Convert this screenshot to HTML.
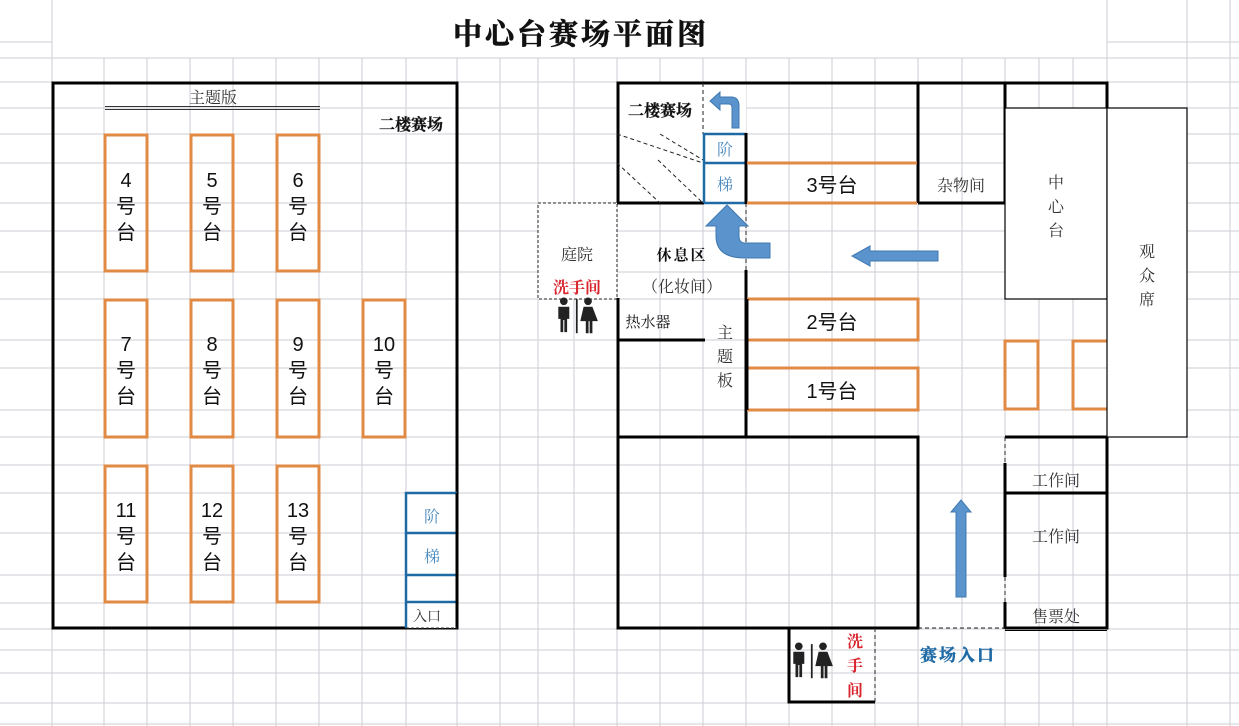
<!DOCTYPE html>
<html><head><meta charset="utf-8"><style>
html,body{margin:0;padding:0;background:#fff;}
svg{display:block;}
text{font-family:"Liberation Serif","Noto Serif CJK SC",serif;}
.s{font-family:"Liberation Sans","Noto Sans CJK SC",sans-serif;}
</style></head><body>
<svg width="1239" height="726" viewBox="0 0 1239 726" xmlns="http://www.w3.org/2000/svg">
<defs>
<g id="wc">
 <circle cx="-12" cy="-17" r="3.5" fill="#222"/>
 <path d="M-17,-12 h10 v11 h-2 v12 h-2.5 v-11 h-1 v11 h-2.5 v-12 h-2 z" fill="#222"/>
 <rect x="-1" y="-19" width="1.6" height="31" fill="#222"/>
 <circle cx="10" cy="-17" r="3.5" fill="#222"/>
 <path d="M6,-12 h8 l5,13 h-5 v11 h-2.5 v-11 h-1 v11 h-2.5 v-11 h-5 z" fill="#222"/>
</g>
</defs>
<g stroke="#cdcdd6" stroke-width="1">
 <line x1="0" y1="42" x2="52" y2="42"/><line x1="1107" y1="42" x2="1239" y2="42"/>
 <line x1="52" y1="0" x2="52" y2="726"/><line x1="1107" y1="0" x2="1107" y2="726"/>
 <line x1="1187" y1="0" x2="1187" y2="726"/><line x1="1230" y1="0" x2="1230" y2="726"/>
 <line x1="0" y1="58" x2="1239" y2="58"/>
 <g>
  <line x1="0" y1="82" x2="1239" y2="82"/><line x1="0" y1="108" x2="1239" y2="108"/>
  <line x1="0" y1="134" x2="1239" y2="134"/><line x1="0" y1="163" x2="1239" y2="163"/>
  <line x1="0" y1="203" x2="1239" y2="203"/><line x1="0" y1="231" x2="1239" y2="231"/>
  <line x1="0" y1="272" x2="1239" y2="272"/><line x1="0" y1="299" x2="1239" y2="299"/>
  <line x1="0" y1="340" x2="1239" y2="340"/><line x1="0" y1="368" x2="1239" y2="368"/>
  <line x1="0" y1="410" x2="1239" y2="410"/><line x1="0" y1="437" x2="1239" y2="437"/>
  <line x1="0" y1="465" x2="1239" y2="465"/><line x1="0" y1="493" x2="1239" y2="493"/>
  <line x1="0" y1="533" x2="1239" y2="533"/><line x1="0" y1="575" x2="1239" y2="575"/>
  <line x1="0" y1="603" x2="1239" y2="603"/><line x1="0" y1="629" x2="1239" y2="629"/>
  <line x1="0" y1="650" x2="1239" y2="650"/><line x1="0" y1="673" x2="1239" y2="673"/>
  <line x1="0" y1="703" x2="1239" y2="703"/><line x1="0" y1="724" x2="1239" y2="724"/>
 </g>
 <g>
  <line x1="104" y1="58" x2="104" y2="726"/><line x1="147" y1="58" x2="147" y2="726"/>
  <line x1="190" y1="58" x2="190" y2="726"/><line x1="233" y1="58" x2="233" y2="726"/>
  <line x1="276" y1="58" x2="276" y2="726"/><line x1="319" y1="58" x2="319" y2="726"/>
  <line x1="362" y1="58" x2="362" y2="726"/><line x1="406" y1="58" x2="406" y2="726"/>
  <line x1="457" y1="58" x2="457" y2="726"/><line x1="500" y1="58" x2="500" y2="726"/>
  <line x1="538" y1="58" x2="538" y2="726"/><line x1="574" y1="58" x2="574" y2="726"/>
  <line x1="617" y1="58" x2="617" y2="726"/><line x1="660" y1="58" x2="660" y2="726"/>
  <line x1="703" y1="58" x2="703" y2="726"/><line x1="746" y1="58" x2="746" y2="726"/>
  <line x1="789" y1="58" x2="789" y2="726"/><line x1="832" y1="58" x2="832" y2="726"/>
  <line x1="875" y1="58" x2="875" y2="726"/><line x1="918" y1="58" x2="918" y2="726"/>
  <line x1="962" y1="58" x2="962" y2="726"/><line x1="1005" y1="58" x2="1005" y2="726"/>
  <line x1="1039" y1="58" x2="1039" y2="726"/><line x1="1073" y1="58" x2="1073" y2="726"/>
 </g>
</g>
<text x="581" y="44" font-size="29" font-weight="bold" text-anchor="middle" letter-spacing="3" fill="#111" stroke="#111" stroke-width="0.6">中心台赛场平面图</text>

<!-- LEFT BUILDING -->
<rect x="53" y="83" width="404" height="545" fill="none" stroke="#000" stroke-width="3"/>
<text x="213" y="103" font-size="16" text-anchor="middle" fill="#333">主题版</text>
<line x1="105" y1="106.5" x2="320" y2="106.5" stroke="#333" stroke-width="1"/>
<line x1="105" y1="109.5" x2="320" y2="109.5" stroke="#333" stroke-width="1"/>
<text x="411" y="130" font-size="16" font-weight="bold" text-anchor="middle" fill="#111" stroke="#111" stroke-width="0.3">二楼赛场</text>
<g fill="none" stroke="#e08a44" stroke-width="3">
 <rect x="105" y="135" width="42" height="136"/><rect x="191" y="135" width="42" height="136"/><rect x="277" y="135" width="42" height="136"/>
 <rect x="105" y="300" width="42" height="137"/><rect x="191" y="300" width="42" height="137"/><rect x="277" y="300" width="42" height="137"/><rect x="363" y="300" width="42" height="137"/>
 <rect x="105" y="466" width="42" height="136"/><rect x="191" y="466" width="42" height="136"/><rect x="277" y="466" width="42" height="136"/>
</g>
<g class="s" font-size="20" text-anchor="middle" fill="#111">
 <text class="s" x="126" y="187">4</text><text class="s" x="126" y="213">号</text><text class="s" x="126" y="239">台</text>
 <text class="s" x="212" y="187">5</text><text class="s" x="212" y="213">号</text><text class="s" x="212" y="239">台</text>
 <text class="s" x="298" y="187">6</text><text class="s" x="298" y="213">号</text><text class="s" x="298" y="239">台</text>
 <text class="s" x="126" y="351">7</text><text class="s" x="126" y="377">号</text><text class="s" x="126" y="403">台</text>
 <text class="s" x="212" y="351">8</text><text class="s" x="212" y="377">号</text><text class="s" x="212" y="403">台</text>
 <text class="s" x="298" y="351">9</text><text class="s" x="298" y="377">号</text><text class="s" x="298" y="403">台</text>
 <text class="s" x="384" y="351">10</text><text class="s" x="384" y="377">号</text><text class="s" x="384" y="403">台</text>
 <text class="s" x="126" y="517">11</text><text class="s" x="126" y="543">号</text><text class="s" x="126" y="569">台</text>
 <text class="s" x="212" y="517">12</text><text class="s" x="212" y="543">号</text><text class="s" x="212" y="569">台</text>
 <text class="s" x="298" y="517">13</text><text class="s" x="298" y="543">号</text><text class="s" x="298" y="569">台</text>
</g>
<rect x="406" y="493" width="51" height="135" fill="#fff"/>
<g stroke="#1f6aa5" stroke-width="2.5" fill="none">
 <path d="M406,628 V493 H457"/><line x1="406" y1="533" x2="457" y2="533"/><line x1="406" y1="575" x2="457" y2="575"/><line x1="406" y1="602" x2="457" y2="602"/>
</g>
<line x1="457" y1="493" x2="457" y2="628" stroke="#000" stroke-width="3"/>
<line x1="406" y1="628" x2="457" y2="628" stroke="#333" stroke-width="1" stroke-dasharray="3,2"/>
<text x="432" y="522" font-size="16" text-anchor="middle" fill="#4a8ac0">阶</text>
<text x="432" y="562" font-size="16" text-anchor="middle" fill="#4a8ac0">梯</text>
<text x="427" y="621" font-size="14" text-anchor="middle" fill="#333">入口</text>

<!-- RIGHT BUILDING -->
<rect x="538" y="203" width="79" height="96" fill="#fff" stroke="#222" stroke-width="1" stroke-dasharray="3,2"/>
<rect x="617" y="82" width="129" height="121" fill="#fff"/>
<g stroke="#000" stroke-width="3" fill="none">
 <path d="M618,203 V83 H1107 V108"/>
 <line x1="617" y1="203" x2="704" y2="203"/>
 <line x1="918" y1="83" x2="918" y2="203"/>
 <path d="M918,203 H1005 V83"/>
 <line x1="746" y1="270" x2="746" y2="437"/>
 <line x1="618" y1="298" x2="618" y2="629"/>
 <line x1="617" y1="340" x2="705" y2="340"/>
 <rect x="618" y="437" width="300" height="191"/>
 <path d="M789,628 V702 H875"/>
 <path d="M1107,437 V628 H1005"/>
 <line x1="1005" y1="437" x2="1107" y2="437"/>
 <line x1="1005" y1="493" x2="1107" y2="493"/>
 <line x1="1005" y1="463" x2="1005" y2="577"/>
 <line x1="1005" y1="602" x2="1005" y2="629"/>
</g>
<line x1="1005" y1="630.5" x2="1107" y2="630.5" stroke="#000" stroke-width="1"/>
<g stroke="#222" stroke-width="1" stroke-dasharray="4,3" fill="none">
 <line x1="703" y1="83" x2="703" y2="134"/>
 <line x1="746" y1="203" x2="746" y2="270"/>
 <line x1="617" y1="134" x2="703" y2="163"/>
 <line x1="660" y1="134" x2="703" y2="160"/>
 <line x1="617" y1="163" x2="660" y2="203"/>
 <line x1="658" y1="160" x2="703" y2="203"/>
 <line x1="918" y1="628" x2="1005" y2="628"/>
 <line x1="1005" y1="437" x2="1005" y2="463"/>
 <line x1="1005" y1="577" x2="1005" y2="602"/>
 <line x1="875" y1="628" x2="875" y2="702"/>
</g>
<g stroke="#1f6aa5" stroke-width="2.5" fill="none">
 <path d="M704,203 V134 H746 M704,203 H746"/><line x1="704" y1="163" x2="746" y2="163"/>
</g>
<line x1="746" y1="133" x2="746" y2="204" stroke="#000" stroke-width="3"/>
<text x="725" y="155" font-size="16" text-anchor="middle" fill="#4a8ac0">阶</text>
<text x="725" y="190" font-size="16" text-anchor="middle" fill="#4a8ac0">梯</text>
<g stroke="#e08a44" stroke-width="3" fill="none">
 <line x1="747" y1="163" x2="917" y2="163"/><line x1="747" y1="203" x2="917" y2="203"/>
 <path d="M747,299 H918 V340 H747"/>
 <path d="M747,368 H918 V410 H747"/>
 <rect x="1005" y="341" width="33" height="68"/>
 <path d="M1107,341 H1073 V409 H1107"/>
</g>
<line x1="747" y1="299" x2="747" y2="410" stroke="#000" stroke-width="3"/>
<rect x="1005" y="108" width="102" height="191" fill="#fff" stroke="#000" stroke-width="1.2"/>
<rect x="1107" y="108" width="80" height="329" fill="#fff" stroke="#000" stroke-width="1.2"/>
<g class="s" font-size="20" text-anchor="middle" fill="#111">
 <text class="s" x="832" y="192">3号台</text>
 <text class="s" x="832" y="329">2号台</text>
 <text class="s" x="832" y="398">1号台</text>
</g>
<g font-size="16" text-anchor="middle" fill="#333">
 <text x="961" y="191">杂物间</text>
 <text x="1056" y="188">中</text><text x="1056" y="212">心</text><text x="1056" y="236">台</text>
 <text x="1147" y="257">观</text><text x="1147" y="281">众</text><text x="1147" y="305">席</text>
 <text x="577" y="260">庭院</text>
 <text x="682" y="292">（化妆间）</text>
 <text x="725" y="338">主</text><text x="725" y="362">题</text><text x="725" y="386">板</text>
 <text x="1056" y="486">工作间</text>
 <text x="1056" y="542">工作间</text>
 <text x="1056" y="622">售票处</text>
</g>
<text x="648" y="327" font-size="15" text-anchor="middle" fill="#111">热水器</text>
<text x="660" y="116" font-size="16" font-weight="bold" text-anchor="middle" fill="#111" stroke="#111" stroke-width="0.3">二楼赛场</text>
<text x="682" y="260" font-size="15" font-weight="bold" text-anchor="middle" fill="#111" letter-spacing="2">休息区</text>
<text x="577" y="293" font-size="16" font-weight="bold" text-anchor="middle" fill="#d9262e">洗手间</text>
<g font-size="16" font-weight="bold" text-anchor="middle" fill="#d9262e">
 <text x="855" y="647">洗</text><text x="855" y="671">手</text><text x="855" y="696">间</text>
</g>
<text x="958" y="661" font-size="17" font-weight="bold" text-anchor="middle" fill="#1f6aa5" letter-spacing="2" stroke="#1f6aa5" stroke-width="0.4">赛场入口</text>
<use href="#wc" transform="translate(577,320) scale(1.1)"/>
<use href="#wc" transform="translate(812,665) scale(1.1)"/>
<g fill="#5b93cc" stroke="#3f78b0" stroke-width="1">
 <path d="M852,256 L870,246 V251 H938 V261 H870 V266 Z"/>
 <path d="M961,500 L971,512 H966 V597 H956 V512 H951 Z"/>
 <path d="M770,243 H745 Q739,243 739,236 V226 H748 L727,205 L706,226 H716 V236 Q716,258 745,258 H770 Z"/>
 <path d="M739,128 V106 Q739,97 731,97 H720 V92 L710,101 L720,110 V104 H729 Q732,104 732,108 V128 Z"/>
</g>
</svg>
</body></html>
